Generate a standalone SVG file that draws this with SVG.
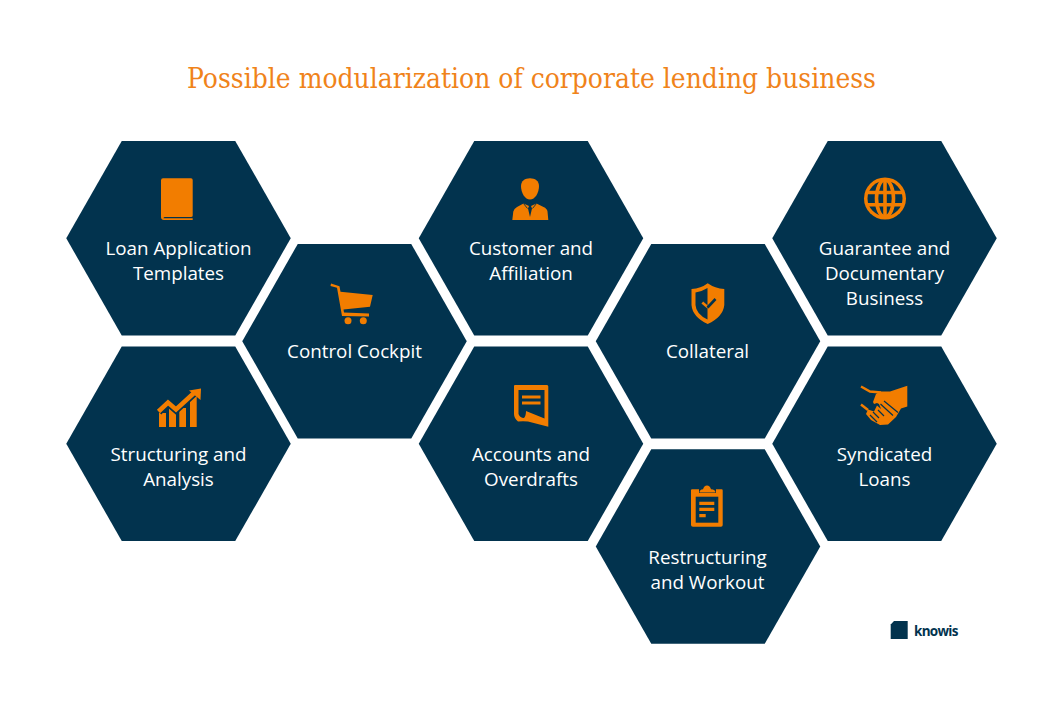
<svg xmlns="http://www.w3.org/2000/svg" width="1063" height="709" viewBox="0 0 1063 709">
<style>
.hex{fill:#02334e}
.t{font-family:"Open Sans",sans-serif;font-size:18.8px;fill:#fff;text-anchor:middle}
.i{fill:#f27d00}
.d{fill:#02334e}
.s{fill:none;stroke:#f27d00}
.k{fill:none;stroke:#02334e}
</style>
<defs><polygon id="h" class="hex" points="-112.25,0 -56.75,-97.25 56.75,-97.25 112.25,0 56.75,97.25 -56.75,97.25"/></defs>
<rect width="1063" height="709" fill="#fff"/>
<text x="531.5" y="87.5" text-anchor="middle" textLength="689" lengthAdjust="spacingAndGlyphs" font-family="DejaVu Serif,serif" font-size="27" fill="#f0831a">Possible modularization of corporate lending business</text>
<g id="connectors"/>
<g id="n1"><use href="#h" x="178.5" y="238.25"/>
<path class="i" d="M163,178.3H191Q192.7,178.3 192.7,180V215.5Q192.7,217 191,217H165Q163.5,217 163.5,218.3H192.7V220H164Q161,220 161,217V180.5Q161,178.3 163,178.3Z"/>
<text class="t" x="178.5" y="255">Loan Application</text><text class="t" x="178.5" y="280">Templates</text></g>
<g id="n2"><use href="#h" x="354.5" y="341.25"/>
<path class="i" d="M331,283.5L339.5,286.3L340.5,291.7L372.7,295L370,306.7L343.5,309.5L344,312.5L369,313.5V316.5L342,316L337,287.8L330.5,286Z"/>
<circle class="i" cx="348" cy="320.7" r="3.5"/><circle class="i" cx="363.3" cy="320.7" r="3.5"/>
<text class="t" x="354.5" y="358">Control Cockpit</text></g>
<g id="n3"><use href="#h" x="178.5" y="443.75"/>
<path class="i" d="M159,413H166V427H159ZM169,405H176V427H169ZM179.3,408H186V427H179.3ZM190,396H196.7V427H190Z"/>
<path class="k" stroke-width="8" d="M158.5,411.5L168,402.5L176,409.5L194,393"/>
<path class="s" stroke-width="4.6" d="M158.5,411.5L168,402.5L176,409.5L194,393"/>
<path class="i" d="M189,390.5L201,388.5L200.5,400Z"/>
<text class="t" x="178.5" y="461">Structuring and</text><text class="t" x="178.5" y="486">Analysis</text></g>
<g id="n4"><use href="#h" x="531" y="238.25"/>
<path class="i" d="M530,178.3C535,178.3 539,181 539,186C539,193 535,199.5 530,199.5C525,199.5 521,193 521,186C521,181 525,178.3 530,178.3Z"/>
<path class="i" d="M512.3,220L513.3,211.5Q514,208.5 517,207L523.5,203.5L529,206L528,208.5L530,217L532,208.5L531,206L536.5,203.5L543.5,207Q547,208.5 547.5,211.5L548.3,220Z"/>
<path class="k" stroke-width="0.9" d="M523.5,203.5L527.5,208.5M536.5,203.5L532.5,208.5"/>
<text class="t" x="531" y="255">Customer and</text><text class="t" x="531" y="280">Affiliation</text></g>
<g id="n5"><use href="#h" x="531" y="443.75"/>
<path class="i" fill-rule="evenodd" d="M515,385H547Q548.3,385 548.3,386.5V426.7L528,421.5Q523,421 518,421.5Q514,418 514,414V386Q514,385 515,385ZM518.5,390V414Q520,418 524,418Q526,416 526,411L544.5,418.5V390Z"/>
<path class="i" d="M522,395.5H540.5V398.5H522ZM522,401.5H540.5V404.5H522Z"/>
<text class="t" x="531" y="461">Accounts and</text><text class="t" x="531" y="486">Overdrafts</text></g>
<g id="n6"><use href="#h" x="708" y="341.25"/>
<path class="i" d="M707.7,283.3Q715,288.5 724.3,289V305Q723,317 707.7,324Q692.5,317 691.5,305V289Q701,288.5 707.7,283.3Z"/>
<path class="d" d="M707.5,288Q702,291.5 695.5,292.5V305Q696,314 707.5,319.5Z"/>
<path class="s" stroke-width="2.6" d="M702.3,302.5L707.5,307"/>
<path class="k" stroke-width="2.6" d="M707.5,307.5L715.5,299"/>
<text class="t" x="707.5" y="358">Collateral</text></g>
<g id="n7"><use href="#h" x="708" y="546.5"/>
<path class="i" d="M692,489.3H699V493H716V489.3H721.7Q722.7,489.3 722.7,490.5V525Q722.7,526.7 721,526.7H693Q691,526.7 691,525V490.5Q691,489.3 692,489.3Z"/>
<path class="d" d="M695.7,496.7H718.3V522.7H695.7Z"/>
<path class="i" d="M699.5,492.5Q699.5,489.5 703,489.3Q704,485.5 707,485.5Q710,485.5 711,489.3Q715.5,489.5 715.5,492.5Z"/>
<path class="i" d="M699.3,501.7H714.3V505H699.3ZM699.3,507.7H714.3V511H699.3ZM699.3,514H705.7V517.3H699.3Z"/>
<text class="t" x="707.5" y="564">Restructuring</text><text class="t" x="707.5" y="589">and Workout</text></g>
<g id="n8"><use href="#h" x="884.5" y="238.25"/>
<circle class="i" cx="885" cy="198.5" r="21"/>
<circle class="d" cx="885" cy="198.5" r="17.5"/>
<g class="s" stroke-width="3.6"><ellipse cx="885" cy="198.5" rx="8.5" ry="18.5"/><path d="M885,180V217M867,192.5H903M867,204.7H903"/></g>
<text class="t" x="884.5" y="255">Guarantee and</text><text class="t" x="884.5" y="280">Documentary</text><text class="t" x="884.5" y="305">Business</text></g>
<g id="n9"><use href="#h" x="884.5" y="443.75"/>
<path class="s" stroke-width="2.4" d="M861,386.5L870,391.5L881,392.5M861,404.5L868,410"/>
<path class="i" d="M907.3,385.7V406.5L901,408.5L896,417L888,424.5L880,425L871,420L866,414L868,409.5L874,411.5L877,405.5L881,409L879,404L877,403L874,404L873,402L876,394L880,391.5L890,391.5Z"/>
<path class="k" stroke-width="1.2" d="M880.5,404L893,415.5M884,401L898,412.5M873,412L879,418M878,410L884,416M870,415L877,422"/>
<text class="t" x="884.5" y="461">Syndicated</text><text class="t" x="884.5" y="486">Loans</text></g>
<g id="logo"><path class="d" d="M894,621H907.7V639H890.7V624.5Z"/>
<text x="914" y="636" font-family="Open Sans,sans-serif" font-weight="700" font-size="13.5" fill="#02334e" textLength="44.5" lengthAdjust="spacing">knowis</text></g>
</svg>
